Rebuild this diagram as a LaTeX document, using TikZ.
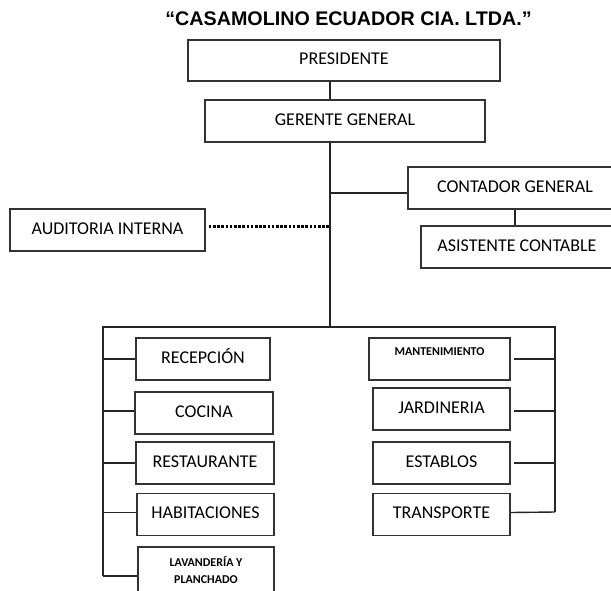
\documentclass[tikz,border=0pt]{standalone}
\usepackage{fontspec}
\setmainfont{Carlito}
\newfontfamily\titlefont{Liberation Sans}
\begin{document}
\begin{tikzpicture}[x=1pt,y=-1pt,
  plainbox/.style={draw=black!80, line width=1.4pt, rectangle, inner sep=0pt, text=black},
  box/.style={plainbox, font=\fontsize{18}{20}\selectfont, text height=11.6pt, text depth=3pt},
  smallbox/.style={box, font=\bfseries\fontsize{12}{17}\selectfont, text height=8pt, text depth=2pt},
  lavbox/.style={plainbox, font=\bfseries\fontsize{12}{17}\selectfont, align=center},
  conn/.style={draw=black!85, line width=1.4pt},
  dots/.style={draw=black, line width=3pt, dash pattern=on 2.6pt off 1.6pt}]
\useasboundingbox (0,0) rectangle (611,590);
\clip (0,0) rectangle (611,590);
\node[font=\titlefont\bfseries\fontsize{19.7}{22}\selectfont, text=black] (title) at (348.5,19) {“CASAMOLINO ECUADOR CIA. LTDA.”};
\node[box, minimum width=312pt, minimum height=41pt] (pres) at (344,60.5) {PRESIDENTE};
\node[box, minimum width=280pt, minimum height=42pt] (ger) at (345,121) {GERENTE GENERAL};
\node[box, minimum width=214pt, minimum height=42pt] (cont) at (515,188) {CONTADOR GENERAL};
\node[box, minimum width=192pt, minimum height=42pt] (asis) at (517,247) {ASISTENTE CONTABLE};
\node[box, minimum width=195pt, minimum height=42pt] (aud) at (107.5,230) {AUDITORIA INTERNA};
% left column
\node[box, minimum width=134pt, minimum height=42pt] (rec) at (203,359) {RECEPCIÓN};
\node[box, minimum width=138pt, minimum height=42pt] (coc) at (204,413) {COCINA};
\node[box, minimum width=138pt, minimum height=42pt] (rest) at (205,463) {RESTAURANTE};
\node[box, minimum width=137pt, minimum height=42pt] (hab) at (205.5,514.5) {HABITACIONES};
\node[lavbox, minimum width=136pt, minimum height=46pt] (lav) at (206,570) {LAVANDERÍA Y\\PLANCHADO};
% right column
\node[smallbox, minimum width=141pt, minimum height=42pt, text depth=16pt] (mant) at (439.5,359) {MANTENIMIENTO};
\node[box, minimum width=137pt, minimum height=42pt] (jard) at (441.5,409) {JARDINERIA};
\node[box, minimum width=137pt, minimum height=42pt] (estab) at (441.5,463) {ESTABLOS};
\node[box, minimum width=137pt, minimum height=42pt] (trans) at (441.5,514.5) {TRANSPORTE};
% coordinates
\coordinate (bus) at (330,327);
\coordinate (bl) at (103,327);
\coordinate (br) at (555,327);
\coordinate (lend) at (103,576);
\coordinate (rend) at (555,512);
% connectors
\draw[conn] (pres.south -| bus) -- (ger.north -| bus);
\draw[conn] (ger.south -| bus) -- (bus);
\draw[conn] ([yshift=-5pt]bus |- cont.west) -- ([yshift=-5pt]cont.west);
\draw[conn] (cont.south) -- (cont.south |- asis.north);
\draw[dots] ([yshift=4pt,xshift=3pt]aud.east) -- ([yshift=4pt]aud.east -| bus);
\draw[conn] (lend) -- (bl) -- (br) -- (rend);
\draw[conn] (rec.west -| bl) -- (rec.west);
\draw[conn] ([yshift=2pt]coc.west -| bl) -- ([yshift=2pt]coc.west);
\draw[conn] (rest.west -| bl) -- (rest.west);
\draw[conn] ([yshift=2pt]hab.west -| bl) -- ([yshift=2pt]hab.west);
\draw[conn] (lend) -- (lend -| lav.west);
\draw[conn] ([xshift=3pt]mant.east) -- (mant.east -| br);
\draw[conn] ([xshift=3pt,yshift=-2pt]jard.east) -- ([yshift=-2pt]jard.east -| br);
\draw[conn] ([xshift=3pt]estab.east) -- (estab.east -| br);
\draw[conn] ([yshift=2pt]trans.east) -- (rend);
\end{tikzpicture}
\end{document}
